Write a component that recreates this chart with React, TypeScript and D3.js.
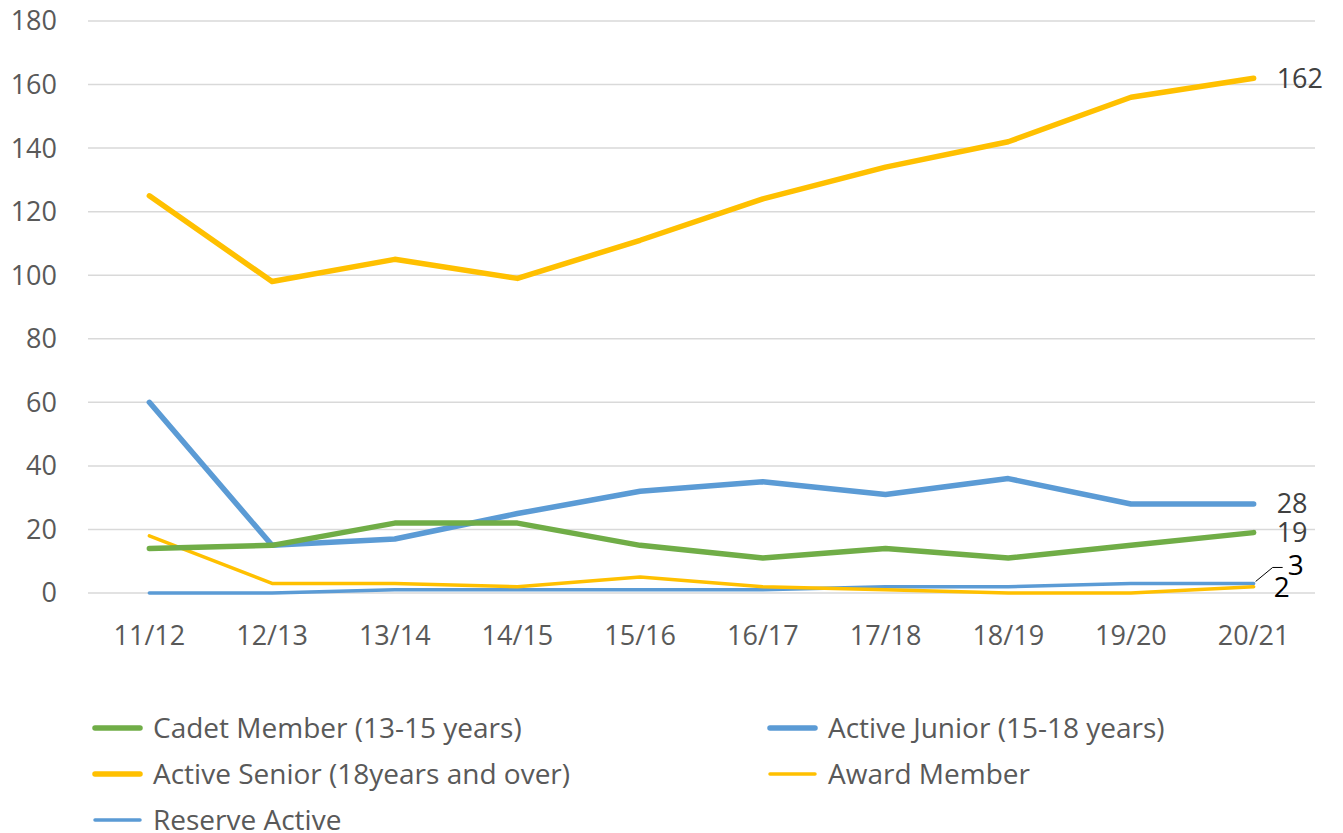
import React from "react"
import * as d3 from "d3"

const seasons = ["11/12", "12/13", "13/14", "14/15", "15/16", "16/17", "17/18", "18/19", "19/20", "20/21"]
const cadet = [14, 15, 22, 22, 15, 11, 14, 11, 15, 19]
const activeJunior = [60, 15, 17, 25, 32, 35, 31, 36, 28, 28]
const activeSenior = [125, 98, 105, 99, 111, 124, 134, 142, 156, 162]
const award = [18, 3, 3, 2, 5, 2, 1, 0, 0, 2]
const reserve = [0, 0, 1, 1, 1, 1, 2, 2, 3, 3]
const yTicks = [0, 20, 40, 60, 80, 100, 120, 140, 160, 180]

const series = [
    { name: "Cadet Member (13-15 years)", values: cadet, color: "#70AD47", width: 5.5 },
    { name: "Active Junior (15-18 years)", values: activeJunior, color: "#5B9BD5", width: 5.5 },
    { name: "Active Senior (18years and over)", values: activeSenior, color: "#FFC000", width: 5.5 },
    { name: "Award Member", values: award, color: "#FFC000", width: 3.5 },
    { name: "Reserve Active", values: reserve, color: "#5B9BD5", width: 3.5 },
]

const W = 1343
const H = 833
const font = "'Open Sans', 'Noto Sans', sans-serif"
const fs = 27

export default function App() {
    const margin = { left: 88, right: 28, top: 21, bottom: 240 }
    const x = d3.scaleBand().domain(seasons).range([margin.left, W - margin.right])
    const y = d3.scaleLinear().domain([0, 180]).range([H - margin.bottom, margin.top])
    const cx = (s: string) => (x(s) as number) + x.bandwidth() / 2

    const line = d3.line<number>()
        .x((_, i) => cx(seasons[i]))
        .y(d => y(d))

    const last = seasons[seasons.length - 1]
    const lx = cx(last)

    // end-of-line value labels
    const endLabels = [
        { text: String(activeSenior[9]), y: y(activeSenior[9]) },
        { text: String(activeJunior[9]), y: y(activeJunior[9]) },
        { text: String(cadet[9]), y: y(cadet[9]) },
    ]

    const legend = [
        { s: series[0], col: 0, row: 0 },
        { s: series[1], col: 1, row: 0 },
        { s: series[2], col: 0, row: 1 },
        { s: series[3], col: 1, row: 1 },
        { s: series[4], col: 0, row: 2 },
    ]

    return (
        <svg width={W} height={H} style={{ position: "absolute", left: 0, top: 0, background: "#fff" }}>
            {yTicks.map(t => (
                <g key={t}>
                    <line x1={margin.left} x2={W - margin.right} y1={y(t)} y2={y(t)} stroke="#D9D9D9" strokeWidth={1.5} />
                    <text x={57} y={y(t)} dy="0.35em" textAnchor="end" fontFamily={font} fontSize={fs} fill="#595959">{t}</text>
                </g>
            ))}
            {seasons.map(s => (
                <text key={s} x={cx(s)} y={645} textAnchor="middle" fontFamily={font} fontSize={fs} fill="#595959">{s}</text>
            ))}
            {series.slice().reverse().map(s => (
                <path key={s.name} d={line(s.values) || ""} fill="none" stroke={s.color} strokeWidth={s.width}
                    strokeLinecap="round" strokeLinejoin="round" />
            ))}
            {endLabels.map(l => (
                <text key={l.text} x={lx + 23} y={l.y} dy="0.35em" fontFamily={font} fontSize={fs} fill="#404040">{l.text}</text>
            ))}
            {/* leader line for Reserve Active value */}
            <polyline points={`${lx + 2},${y(reserve[9]) - 2} ${lx + 19},${y(reserve[9]) - 16} ${lx + 29},${y(reserve[9]) - 16}`}
                fill="none" stroke="#000" strokeWidth={1} />
            <text x={lx + 34} y={y(reserve[9]) - 18} dy="0.35em" fontFamily={font} fontSize={28} fill="#000">{reserve[9]}</text>
            <text x={lx + 20} y={y(award[9]) + 1} dy="0.35em" fontFamily={font} fontSize={28} fill="#000">{award[9]}</text>
            {legend.map(({ s, col, row }) => {
                const x0 = col === 0 ? 95 : 770
                const yy = 728 + row * 46
                return (
                    <g key={s.name}>
                        <line x1={x0} x2={x0 + 45} y1={yy} y2={yy} stroke={s.color} strokeWidth={s.width} strokeLinecap="round" />
                        <text x={x0 + 58} y={yy} dy="0.35em" fontFamily={font} fontSize={28} fill="#595959">{s.name}</text>
                    </g>
                )
            })}
        </svg>
    )
}
